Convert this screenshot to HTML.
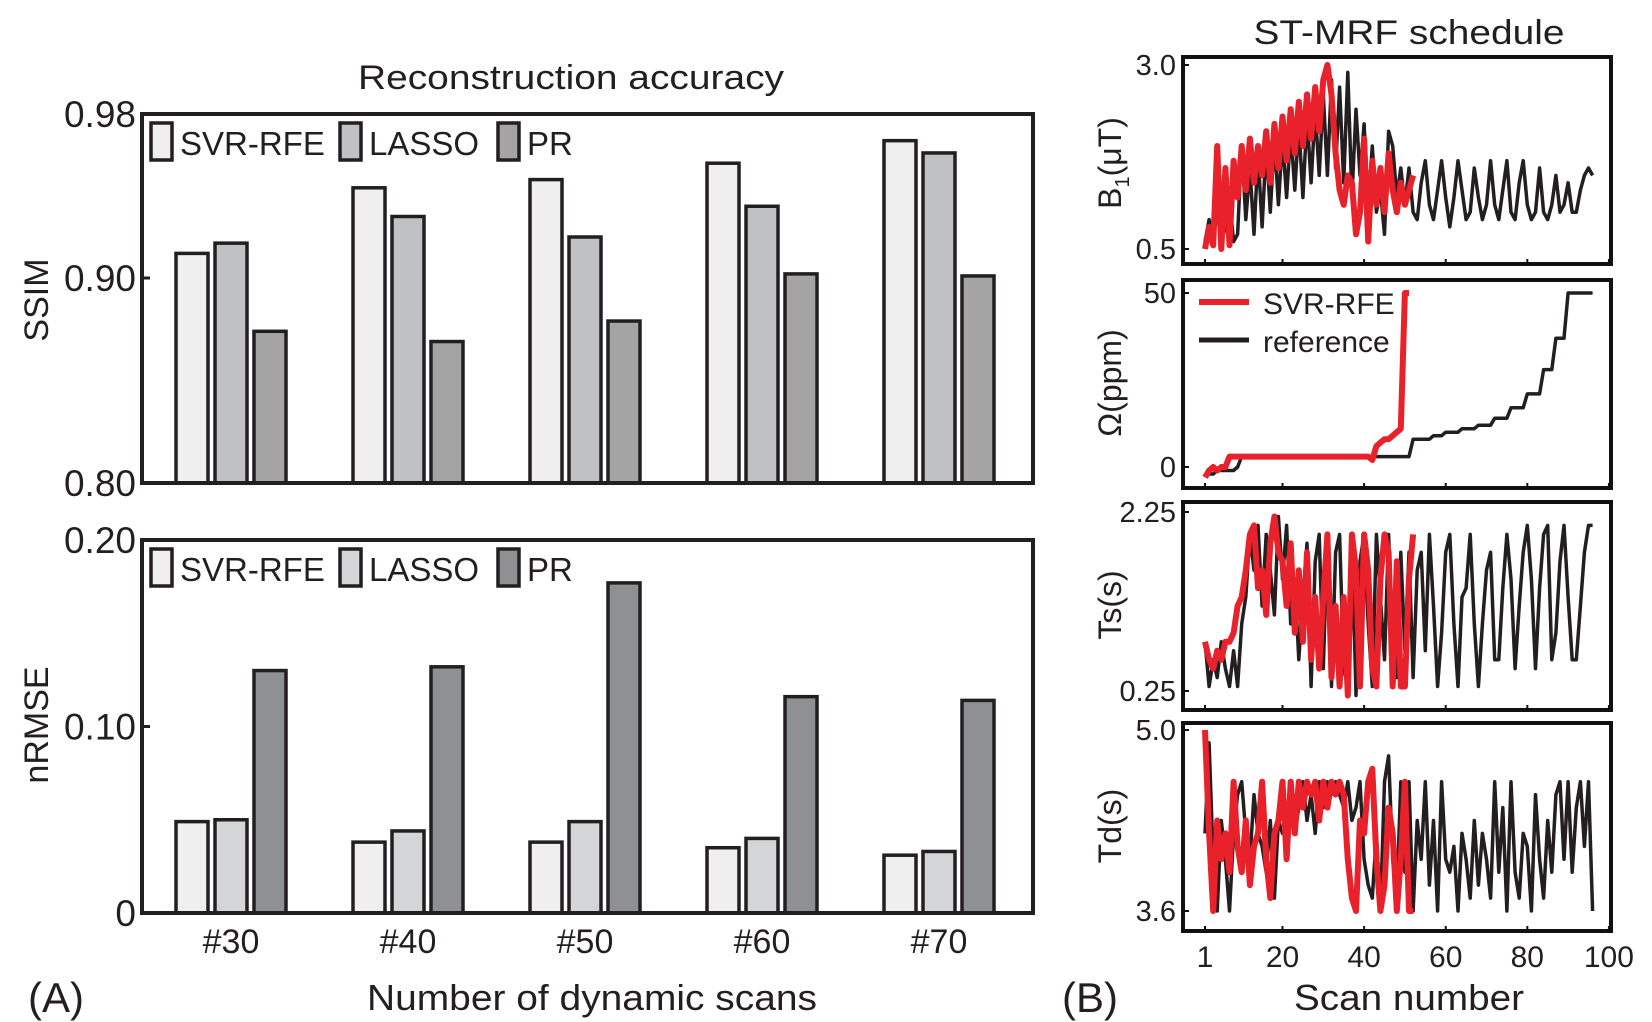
<!DOCTYPE html>
<html><head><meta charset="utf-8"><style>
html,body{margin:0;padding:0;background:#fff;}
svg{display:block;font-family:"Liberation Sans",Arial,sans-serif;}
</style></head><body>
<svg id="fig" width="1652" height="1022" viewBox="0 0 1652 1022" xmlns="http://www.w3.org/2000/svg">
<g id="left"></g>
<g id="right"></g>
</svg>
<script>
// ---- Bar chart data ----
const categories = ["#30","#40","#50","#60","#70"];
const methods = ["SVR-RFE","LASSO","PR"];
const ssimSVR   = [0.912,0.944,0.948,0.956,0.967];
const ssimLASSO = [0.917,0.930,0.920,0.935,0.961];
const ssimPR    = [0.874,0.869,0.879,0.902,0.901];
const rmseSVR   = [0.049,0.038,0.038,0.035,0.031];
const rmseLASSO = [0.050,0.044,0.049,0.040,0.033];
const rmsePR    = [0.130,0.132,0.177,0.116,0.114];
const ssimTicks = [0.98,0.90,0.80];
const ssimTickLabels = ["0.98","0.90","0.80"];
const rmseTicks = [0.20,0.10,0];
const rmseTickLabels = ["0.20","0.10","0"];

// ---- Schedule data ----
const scanTicks = [1,20,40,60,80,100];
const b1Ref = [0.6,0.9,0.7,1.0,0.6,0.8,1.2,0.6,0.7,1.9,0.9,1.6,0.7,1.8,0.8,1.9,1.0,2.0,1.1,2.0,1.2,2.1,1.3,2.2,1.2,2.3,1.4,2.4,1.5,2.6,1.5,2.8,1.6,2.7,1.4,2.9,1.2,2.4,1.5,2.2,1.1,1.9,1.0,1.3,0.7,2.1,1.9,1.2,1.6,1.1,1.6,1.0,0.9,1.4,1.7,1.1,0.9,1.3,1.7,1.2,0.8,1.2,1.7,1.3,0.9,1.0,1.6,1.2,0.9,1.1,1.7,1.1,0.9,1.3,1.7,1.0,0.9,1.4,1.7,1.1,0.9,1.0,1.6,1.0,0.9,1.1,1.5,1.0,1.1,1.4,1.0,1.0,1.3,1.5,1.6,1.5];
const b1Red = [0.5,0.8,0.55,1.9,0.5,1.6,0.55,1.7,1.2,1.9,1.3,2.0,1.4,1.9,1.5,2.1,1.4,2.2,1.6,2.3,1.7,2.4,1.8,2.5,1.9,2.6,2.0,2.7,2.1,2.8,3.0,2.6,1.8,1.3,1.1,1.5,1.4,0.7,1.0,2.0,0.6,1.7,1.1,1.6,1.0,1.8,1.3,1.0,1.4,1.1,1.3,1.5];
const omRef = [-2,-2,-2,-1,-1,-1,-1,-1,0,3,3,3,3,3,3,3,3,3,3,3,3,3,3,3,3,3,3,3,3,3,3,3,3,3,3,3,3,3,3,3,3,3,3,3,3,3,3,3,3,3,3,8,8,8,8,8,9,9,9,10,10,10,10,11,11,11,11,12,12,12,12,14,14,14,14,17,17,17,17,21,21,21,21,28,28,28,37,37,37,50,50,50,50,50,50,50];
const omRed = [-3,-1,0,-1,0,0,3,3,3,3,3,3,3,3,3,3,3,3,3,3,3,3,3,3,3,3,3,3,3,3,3,3,3,3,3,3,3,3,3,3,3,2,6,7,8,8,9,10,11,50,50];
const tsRef = [0.8,0.3,0.6,0.4,0.8,0.5,0.3,0.7,0.3,1.0,1.3,2.0,1.6,2.1,1.2,2.0,1.6,1.1,2.2,1.5,2.1,1.0,1.5,0.6,1.3,1.9,0.3,1.7,2.0,0.5,2.0,0.3,1.8,2.0,0.5,0.3,2.0,0.2,1.7,2.0,1.0,0.3,2.0,1.3,0.6,2.0,0.6,0.4,1.8,0.7,1.8,0.4,1.6,1.8,0.7,2.0,1.2,0.3,0.9,1.8,2.0,1.0,0.3,1.3,1.4,2.0,1.0,0.3,1.0,1.6,1.8,0.6,0.6,1.4,2.0,1.5,0.5,1.2,1.8,2.1,1.5,0.5,1.4,2.0,2.1,0.6,0.9,1.7,2.1,1.3,0.6,0.6,1.2,1.8,2.1,2.1];
const tsRed = [0.8,0.6,0.5,0.7,0.6,0.8,0.8,0.9,1.2,1.3,1.6,2.0,2.1,1.4,1.6,1.1,1.9,2.2,1.8,1.7,1.2,1.9,0.9,1.6,0.8,1.8,0.6,1.3,0.5,1.3,2.0,0.4,1.2,0.3,1.3,0.2,2.0,1.6,0.3,2.0,1.6,0.5,0.3,1.5,2.0,1.8,0.3,1.7,0.3,0.3,1.5,2.0];
const tdRef = [4.2,4.9,4.0,3.6,4.3,4.0,3.6,4.2,4.5,4.6,4.2,4.0,4.5,4.2,4.1,3.9,4.3,3.7,4.3,4.2,4.4,4.5,4.2,4.4,4.6,4.3,4.5,4.2,4.6,4.4,4.6,4.5,4.6,4.5,4.4,4.6,4.3,4.4,4.6,4.0,3.8,3.7,4.2,3.6,4.6,4.8,4.0,3.7,4.6,3.9,4.6,3.6,4.3,4.0,4.6,3.8,4.3,3.6,4.6,4.0,3.9,4.1,3.6,4.2,4.0,3.7,4.3,3.8,4.2,4.0,3.7,4.6,3.9,4.4,3.6,4.6,3.9,3.7,4.2,4.1,3.6,4.5,4.0,3.7,4.3,3.9,4.5,4.6,4.0,4.6,3.9,4.4,4.6,4.1,4.6,3.6];
const tdRed = [5.0,4.2,3.6,4.3,4.0,4.2,3.9,4.6,4.1,3.9,4.3,3.8,4.1,4.2,4.6,4.0,3.7,4.2,4.3,4.6,4.0,4.6,4.2,4.6,4.4,4.6,4.5,4.6,4.3,4.6,4.4,4.6,4.5,4.6,4.5,4.0,3.7,3.6,4.3,4.2,4.6,4.7,4.0,3.6,3.8,4.4,4.2,3.6,4.0,4.6,3.6,3.6];

const NS="http://www.w3.org/2000/svg";
function mk(parent,tag,attrs,text){const e=document.createElementNS(NS,tag);for(const k in attrs)e.setAttribute(k,attrs[k]);if(text!==undefined)e.textContent=text;parent.appendChild(e);return e;}
const L=document.getElementById('left'), R=document.getElementById('right');
const INK="#231f20";

// ---------- Left panel ----------
let t;
t=mk(L,'text',{x:571,y:89,'font-size':34,'text-anchor':'middle',textLength:426,lengthAdjust:'spacingAndGlyphs',fill:INK},'Reconstruction accuracy');



const xCenter = i => 231 + i*177;
const offs=[-39,0,39];
function barChart(cfg){
  const g=mk(L,'g',{});
  
  
  const y=v=>cfg.y0+(v-cfg.vmin)/(cfg.vmax-cfg.vmin)*(cfg.y1-cfg.y0);
  cfg.series.forEach((s,si)=>{
    s.forEach((v,ci)=>{
      const xc=xCenter(ci)+offs[si];
      const r=mk(g,'rect',{x:xc-16,y:y(v),width:32,height:y(cfg.vmin)-y(v),fill:cfg.colors[si],stroke:INK,'stroke-width':3.5});
      
      
    });
  });
  const fr=mk(g,'rect',{x:142,y:cfg.y1,width:891,height:cfg.y0-cfg.y1,fill:'none',stroke:INK,'stroke-width':4});
  
  
  cfg.ticks.forEach((v,i)=>{
    mk(g,'line',{x1:142,x2:150,y1:y(v),y2:y(v),stroke:INK,'stroke-width':3});
    const tl=mk(g,'text',{x:136,y:y(v)+13,'font-size':37,'text-anchor':'end',fill:INK},cfg.tickLabels[i]);
    
    
  });
  const yl=mk(g,'text',{x:0,y:0,'font-size':34,'text-anchor':'middle',fill:INK,transform:`translate(48,${cfg.labelY}) rotate(-90)`},cfg.label);
  
  
  const lx=[151,340,498];
  methods.forEach((m,i)=>{
    const le=mk(g,'g',{});
    
    
    mk(le,'rect',{x:lx[i],y:cfg.y1+9,width:21,height:37,fill:cfg.colors[i],stroke:INK,'stroke-width':3.5});
    mk(le,'text',{x:lx[i]+29,y:cfg.y1+41,'font-size':33,fill:INK},m);
  });
}
barChart({name:'ssim-chart',y0:483,y1:114,vmin:0.80,vmax:0.98,series:[ssimSVR,ssimLASSO,ssimPR],colors:['#efefef','#bfc1c3','#a4a4a4'],ticks:ssimTicks,tickLabels:ssimTickLabels,label:'SSIM',labelY:300});
barChart({name:'nrmse-chart',y0:913,y1:540,vmin:0,vmax:0.20,series:[rmseSVR,rmseLASSO,rmsePR],colors:['#efefef','#d3d5d6','#8f9092'],ticks:rmseTicks,tickLabels:rmseTickLabels,label:'nRMSE',labelY:725});
categories.forEach((c,i)=>{
  const e=mk(L,'text',{x:xCenter(i),y:953,'font-size':34,'text-anchor':'middle',fill:INK},c);
  
  
});
t=mk(L,'text',{x:592,y:1010,'font-size':36,'text-anchor':'middle',textLength:450,lengthAdjust:'spacingAndGlyphs',fill:INK},'Number of dynamic scans');


t=mk(L,'text',{x:28,y:1012,'font-size':42,fill:INK},'(A)');



// ---------- Right panel ----------
t=mk(R,'text',{x:1409,y:44,'font-size':34,'text-anchor':'middle',textLength:311,lengthAdjust:'spacingAndGlyphs',fill:INK},'ST-MRF schedule');


const xs = s => 1205 + (s-1)*4.08;
function series(cfg){
  const g=mk(R,'g',{});
  
  
  const y=v=>cfg.yA+(v-cfg.vA)/(cfg.vB-cfg.vA)*(cfg.yB-cfg.yA);
  const pts=a=>a.map((v,i)=>xs(i+1).toFixed(1)+','+y(v).toFixed(1)).join(' ');
  const pr=mk(g,'polyline',{points:pts(cfg.ref),fill:'none',stroke:'#231f20','stroke-width':3.5,'stroke-linejoin':'round'});
  
  
  const pd=mk(g,'polyline',{points:pts(cfg.red),fill:'none',stroke:'#e8212a','stroke-width':6,'stroke-linejoin':'round'});
  
  
  const fr=mk(g,'rect',{x:1183,y:cfg.top,width:428,height:cfg.bot-cfg.top,fill:'none',stroke:'#111','stroke-width':4});
  
  
  scanTicks.forEach(s=>{ if(xs(s)<1609) mk(g,'line',{x1:xs(s),x2:xs(s),y1:cfg.bot,y2:cfg.bot-5,stroke:'#111','stroke-width':2}); });
  [[cfg.vA,cfg.lA],[cfg.vB,cfg.lB]].forEach(([v,l])=>{
    mk(g,'line',{x1:1183,x2:1189,y1:y(v),y2:y(v),stroke:'#111','stroke-width':2});
    const tl=mk(g,'text',{x:1176,y:y(v)+10,'font-size':29,'text-anchor':'end',fill:INK},l);
    
    
  });
  const yl=mk(g,'text',{x:0,y:0,'font-size':32,'text-anchor':'middle',fill:INK,transform:`translate(1121,${cfg.labelY}) rotate(-90)`});
  yl.innerHTML=cfg.label;
  
  
}
series({name:'b1-chart',top:57,bot:264,ref:b1Ref,red:b1Red,vA:0.5,yA:249,vB:3.0,yB:65,lA:'0.5',lB:'3.0',label:'B<tspan font-size="20" dy="8">1</tspan><tspan dy="-8">(μT)</tspan>',labelY:163});
series({name:'omega-chart',top:280,bot:488,ref:omRef,red:omRed,vA:0,yA:467,vB:50,yB:293,lA:'0',lB:'50',label:'Ω(ppm)',labelY:383});
series({name:'ts-chart',top:502,bot:710,ref:tsRef,red:tsRed,vA:0.25,yA:691,vB:2.25,yB:512,lA:'0.25',lB:'2.25',label:'Ts(s)',labelY:605});
series({name:'td-chart',top:723,bot:931,ref:tdRef,red:tdRed,vA:3.6,yA:911,vB:5.0,yB:730,lA:'3.6',lB:'5.0',label:'Td(s)',labelY:826});
// legend in omega panel
const lg=mk(R,'g',{});


mk(lg,'line',{x1:1199,x2:1249,y1:302,y2:302,stroke:'#e8212a','stroke-width':6});
mk(lg,'text',{x:1263,y:314,'font-size':30,fill:INK},'SVR-RFE');
mk(lg,'line',{x1:1199,x2:1249,y1:340,y2:340,stroke:'#231f20','stroke-width':5});
mk(lg,'text',{x:1263,y:352,'font-size':30,fill:INK},'reference');
scanTicks.forEach(s=>{
  const e=mk(R,'text',{x:xs(s),y:967,'font-size':30,'text-anchor':'middle',fill:INK},String(s));
  
  
});
t=mk(R,'text',{x:1409,y:1010,'font-size':36,'text-anchor':'middle',textLength:230,lengthAdjust:'spacingAndGlyphs',fill:INK},'Scan number');


t=mk(R,'text',{x:1062,y:1012,'font-size':42,fill:INK},'(B)');


</script>
</body></html>
